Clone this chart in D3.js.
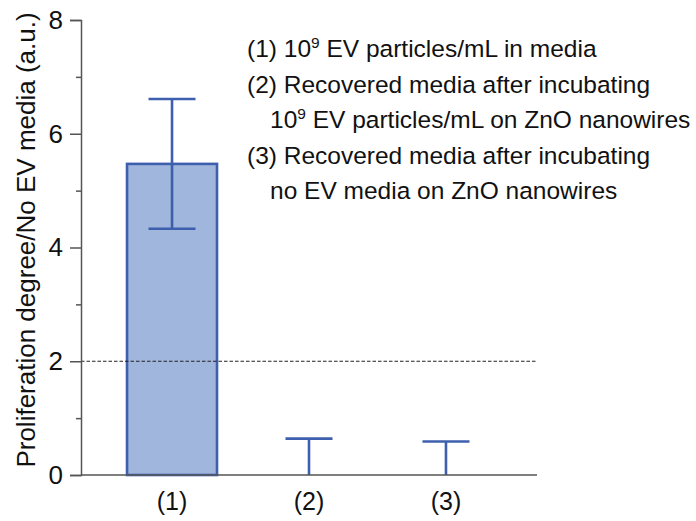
<!DOCTYPE html>
<html>
<head>
<meta charset="utf-8">
<script src="https://cdn.jsdelivr.net/npm/d3@7"></script>
<style>
  html, body { margin: 0; padding: 0; background: #fff; }
  svg { display: block; font-family: "Liberation Sans", Arial, Helvetica, sans-serif; }
</style>
</head>
<body>
<svg id="chart" width="696" height="521"></svg>
<script>
// Groups and measured proliferation degree (mean ± error)
const categories = ["(1)", "(2)", "(3)"];
const means = [5.47, 0, 0];
const errors = [1.14, 0.64, 0.59];
const threshold = 2;
const majorTicks = [0, 2, 4, 6, 8];
const minorTicks = [1, 3, 5, 7];
const yTitle = "Proliferation degree/No EV media (a.u.)";
const legendLines = [
  { parts: ["(1) 10", "9", " EV particles/mL in media"], indent: false },
  { parts: ["(2) Recovered media after incubating"], indent: false },
  { parts: ["10", "9", " EV particles/mL on ZnO nanowires"], indent: true },
  { parts: ["(3) Recovered media after incubating"], indent: false },
  { parts: ["no EV media on ZnO nanowires"], indent: true }
];

const svg = d3.select("#chart");
const plotLeft = 81, plotRight = 537, plotTop = 20, plotBottom = 475;

const x = d3.scaleBand()
  .domain(categories)
  .range([plotLeft, plotRight])
  .paddingInner(0.343)
  .paddingOuter(0.336);

const y = d3.scaleLinear().domain([0, 8]).range([plotBottom, plotTop]);

const axisColor = "#555";
const blue = "#3d5fae";
const fontFam = "'Liberation Sans', Arial, Helvetica, sans-serif";

// Bars
svg.append("g").selectAll("rect")
  .data(categories)
  .join("rect")
  .attr("x", d => x(d))
  .attr("width", x.bandwidth())
  .attr("y", (d, i) => y(means[i]))
  .attr("height", (d, i) => y(0) - y(means[i]))
  .attr("fill", "#a1b6dc")
  .attr("stroke", blue)
  .attr("stroke-width", 2.6)
  .attr("display", (d, i) => means[i] > 0 ? null : "none");

// Threshold line
svg.append("line")
  .attr("x1", plotLeft).attr("x2", plotRight)
  .attr("y1", y(threshold)).attr("y2", y(threshold))
  .attr("stroke", "#222")
  .attr("stroke-width", 1.2)
  .attr("stroke-dasharray", "3.5,2");

// Error bars
const capHalf = 23.5;
const eg = svg.append("g").attr("stroke", blue).attr("stroke-width", 2.6).attr("fill", "none");
categories.forEach((c, i) => {
  const cx = x(c) + x.bandwidth() / 2;
  const hi = means[i] + errors[i];
  const lo = Math.max(0, means[i] - errors[i]);
  eg.append("line").attr("x1", cx).attr("x2", cx).attr("y1", y(hi)).attr("y2", y(lo));
  eg.append("line").attr("x1", cx - capHalf).attr("x2", cx + capHalf).attr("y1", y(hi)).attr("y2", y(hi));
  if (means[i] - errors[i] > 0) {
    eg.append("line").attr("x1", cx - capHalf).attr("x2", cx + capHalf).attr("y1", y(lo)).attr("y2", y(lo));
  }
});

// Y axis: major ticks with labels, then minor ticks
const yAxis = svg.append("g")
  .attr("transform", `translate(${plotLeft},0)`)
  .call(d3.axisLeft(y).tickValues(majorTicks).tickSize(11).tickPadding(7).tickFormat(d3.format("d")));
yAxis.select(".domain").attr("stroke", axisColor).attr("stroke-width", 1.5);
yAxis.selectAll(".tick line").attr("stroke", axisColor).attr("stroke-width", 1.5);
yAxis.selectAll(".tick text").attr("font-size", 26).attr("fill", "#111")
  .style("font-family", fontFam);

const yMinor = svg.append("g")
  .attr("transform", `translate(${plotLeft},0)`)
  .call(d3.axisLeft(y).tickValues(minorTicks).tickSize(5).tickFormat(""));
yMinor.select(".domain").remove();
yMinor.selectAll(".tick line").attr("stroke", axisColor).attr("stroke-width", 1.5);

// X axis
const xAxis = svg.append("g")
  .attr("transform", `translate(0,${plotBottom})`)
  .call(d3.axisBottom(x).tickSize(0).tickPadding(17));
xAxis.select(".domain").attr("stroke", axisColor).attr("stroke-width", 1.5)
  .attr("d", `M${plotLeft},0H${plotRight}`);
xAxis.selectAll(".tick text").attr("font-size", 25).attr("fill", "#111")
  .style("font-family", fontFam);

// Y axis title
svg.append("text")
  .attr("transform", `translate(35,240) rotate(-90)`)
  .attr("text-anchor", "middle")
  .attr("font-size", 26)
  .attr("fill", "#111")
  .text(yTitle);

// Legend text block
const legX = 247, legIndent = 270, legY0 = 57, legStep = 35.5;
legendLines.forEach((ln, i) => {
  const t = svg.append("text")
    .attr("x", ln.indent ? legIndent : legX)
    .attr("y", legY0 + i * legStep)
    .attr("font-size", 24.5)
    .attr("fill", "#111");
  if (ln.parts.length === 1) {
    t.text(ln.parts[0]);
  } else {
    t.append("tspan").text(ln.parts[0]);
    t.append("tspan").attr("font-size", 15.5).attr("dy", -9).text(ln.parts[1]);
    t.append("tspan").attr("dy", 9).text(ln.parts[2]);
  }
});
</script>
</body>
</html>
